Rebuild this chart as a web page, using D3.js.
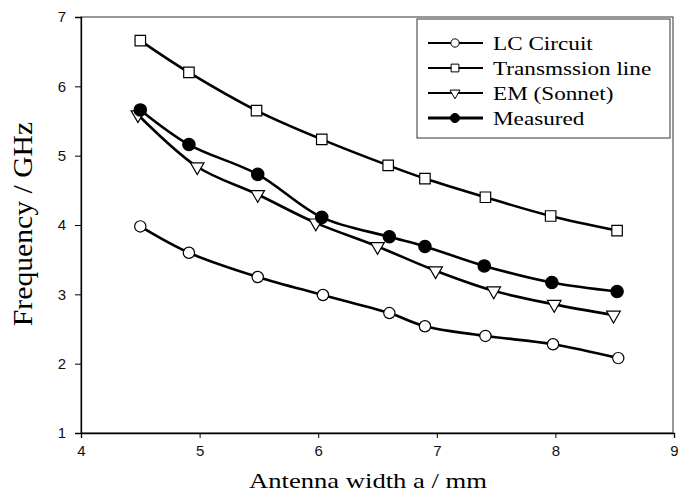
<!DOCTYPE html>
<html>
<head>
<meta charset="utf-8">
<script src="https://cdn.jsdelivr.net/npm/d3@7"></script>
<style>
  body { margin: 0; background: #fff; }
  svg { display: block; }
  .tick text { font-family: "Liberation Sans", Arial, sans-serif; font-size: 15px; fill: #111; }
  .serif { font-family: "Liberation Serif", "Times New Roman", serif; fill: #000; }
</style>
</head>
<body>
<svg id="chart" width="678" height="499"></svg>
<script>
// data
var series_names = ['LC Circuit', 'Transmssion line', 'EM (Sonnet)', 'Measured'];
var lc_x = [4.50, 4.91, 5.49, 6.04, 6.60, 6.90, 7.41, 7.98, 8.53];
var lc_y = [3.98, 3.60, 3.25, 2.99, 2.73, 2.54, 2.40, 2.28, 2.08];
var tl_x = [4.50, 4.91, 5.48, 6.03, 6.59, 6.90, 7.41, 7.96, 8.52];
var tl_y = [6.66, 6.20, 5.65, 5.235, 4.86, 4.67, 4.40, 4.13, 3.92];
var em_x = [4.48, 4.98, 5.49, 5.98, 6.50, 6.99, 7.48, 7.99, 8.49];
var em_y = [5.59, 4.84, 4.44, 4.03, 3.69, 3.34, 3.05, 2.855, 2.70];
var meas_x = [4.50, 4.91, 5.49, 6.03, 6.60, 6.90, 7.40, 7.97, 8.52];
var meas_y = [5.66, 5.16, 4.73, 4.11, 3.83, 3.69, 3.41, 3.17, 3.04];
var x_ticks = [4, 5, 6, 7, 8, 9];
var y_ticks = [1, 2, 3, 4, 5, 6, 7];

var margin = {top: 17, right: 4, bottom: 66, left: 81};
var full_width = 678, full_height = 499;
var width = full_width - margin.left - margin.right;
var height = full_height - margin.top - margin.bottom;

var x = d3.scaleLinear().domain([4, 9]).range([0, width]);
var y = d3.scaleLinear().domain([1, 7]).range([height, 0]);

var svg = d3.select('#chart')
  .append('g')
  .attr('transform', 'translate(' + margin.left + ',' + margin.top + ')');

// frame
svg.append('rect')
  .attr('x', 0).attr('y', 0)
  .attr('width', x(9) - 1).attr('height', height)
  .attr('fill', 'none')
  .attr('stroke', '#333')
  .attr('stroke-width', 1);

svg.append('g')
  .attr('transform', 'translate(0,' + height + ')')
  .call(d3.axisBottom(x).tickValues(x_ticks).tickFormat(d3.format('d')).tickSize(5).tickPadding(7))
  .call(g => g.select('.domain').attr('stroke', '#000').attr('stroke-width', 1.3));

svg.append('g')
  .call(d3.axisLeft(y).tickValues(y_ticks).tickFormat(d3.format('d')).tickSize(6).tickPadding(9))
  .call(g => g.select('.domain').attr('stroke', '#000').attr('stroke-width', 1.3));

var data = [
  {name: series_names[0], xs: lc_x, ys: lc_y, marker: 'circle', fill: '#fff'},
  {name: series_names[1], xs: tl_x, ys: tl_y, marker: 'square', fill: '#fff'},
  {name: series_names[2], xs: em_x, ys: em_y, marker: 'triangle', fill: '#fff'},
  {name: series_names[3], xs: meas_x, ys: meas_y, marker: 'circle', fill: '#000'}
];
data.forEach(s => { s.points = s.xs.map((v, i) => ({x: v, y: s.ys[i]})); });

var line = d3.line().x(d => x(d.x)).y(d => y(d.y)).curve(d3.curveCatmullRom.alpha(0.5));

function marker_path(type, size)
{
  if (type === 'circle') return d3.symbol(d3.symbolCircle, size)();
  if (type === 'square') return d3.symbol(d3.symbolSquare, size)();
  // downward triangle
  var r = Math.sqrt(size / (Math.sqrt(3) * 0.75));
  return 'M' + (-r * 0.5 * Math.sqrt(3)) + ',' + (-r * 0.5) + 'L' + (r * 0.5 * Math.sqrt(3)) + ',' + (-r * 0.5) + 'L0,' + r + 'Z';
}

function marker_size(s, scale)
{
  var base = s.marker === 'square' ? 110 : (s.marker === 'triangle' ? 80 : (s.fill === '#000' ? 120 : 100));
  return base * scale;
}

data.forEach(s => {
  svg.append('path')
    .datum(s.points)
    .attr('fill', 'none')
    .attr('stroke', '#000')
    .attr('stroke-width', 2.6)
    .attr('d', line);
});

data.forEach(s => {
  svg.selectAll(null)
    .data(s.points)
    .enter()
    .append('path')
    .attr('transform', d => 'translate(' + x(d.x) + ',' + y(d.y) + ')')
    .attr('d', marker_path(s.marker, marker_size(s, 1)))
    .attr('fill', s.fill)
    .attr('stroke', '#000')
    .attr('stroke-width', 1.2);
});

// legend
var legend = d3.select('#chart').append('g').attr('transform', 'translate(417,19)');
legend.append('rect')
  .attr('x', 0).attr('y', 0)
  .attr('width', 253).attr('height', 119)
  .attr('fill', '#fff')
  .attr('stroke', '#333')
  .attr('stroke-width', 1);

data.forEach((s, i) => {
  var row = legend.append('g').attr('transform', 'translate(0,' + (24 + i * 25) + ')');
  row.append('line')
    .attr('x1', 11).attr('x2', 66).attr('y1', 0).attr('y2', 0)
    .attr('stroke', '#000')
    .attr('stroke-width', s.fill === '#000' ? 2.8 : 2);
  row.append('path')
    .attr('transform', 'translate(38,0)')
    .attr('d', marker_path(s.marker, marker_size(s, 0.55)))
    .attr('fill', s.fill)
    .attr('stroke', '#000')
    .attr('stroke-width', 1);
  row.append('text')
    .attr('class', 'serif')
    .attr('transform', 'translate(76,7) scale(1.22,1)')
    .style('font-size', '19px')
    .text(s.name);
});

// axis titles
d3.select('#chart').append('text')
  .attr('class', 'serif')
  .attr('text-anchor', 'middle')
  .attr('transform', 'translate(368,488) scale(1.21,1)')
  .style('font-size', '22px')
  .text('Antenna width a / mm');

d3.select('#chart').append('text')
  .attr('class', 'serif')
  .attr('text-anchor', 'middle')
  .attr('transform', 'translate(32,224) rotate(-90) scale(1.06,1)')
  .style('font-size', '28px')
  .text('Frequency / GHz');
</script>
</body>
</html>
